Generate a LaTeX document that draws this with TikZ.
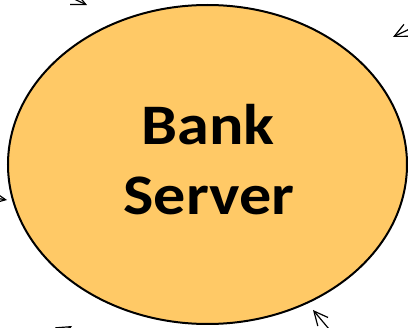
\documentclass[tikz,border=0pt]{standalone}
\usepackage{fontspec}
\setmainfont{Carlito}
\usetikzlibrary{arrows.meta,shapes.geometric}
\definecolor{fillc}{RGB}{255,201,102}
\begin{document}
\begin{tikzpicture}[x=0.75pt,y=-0.75pt,
  conn/.style={-{Straight Barb[length=10.5pt,width=10pt]}, line width=0.9pt},
  lbl/.style={font=\fontsize{43}{52}\selectfont\bfseries, anchor=base, inner sep=0pt},
  srvshape/.style={ellipse, draw=black, line width=1.5pt, fill=fillc, minimum width=299.25pt, minimum height=239.25pt, inner sep=0pt}]
\useasboundingbox (0,0) rectangle (408,328);
\clip (0,0) rectangle (408,328);
\node[srvshape] (srv) at (207.5,164.5) {};
\node[lbl] (l1) at (208,145) {\scalebox{1.12}[1]{Bank}};
\node[lbl] (l2) at (209,215) {\scalebox{1.12}[1]{Server}};
\coordinate (s1) at (33,-20);  \coordinate (e1) at (87,5);
\coordinate (s2) at (447,11);  \coordinate (e2) at (393,37);
\coordinate (s3) at (-40,192); \coordinate (e3) at (7,200);
\coordinate (s4) at (30,350);  \coordinate (e4) at (72,326);
\coordinate (s5) at (350,354); \coordinate (e5) at (313,310);
\draw[conn] (s1) -- (e1);
\draw[conn] (s2) -- (e2);
\draw[conn] (s3) -- (e3);
\draw[conn] (s4) -- (e4);
\draw[conn] (s5) -- (e5);
\end{tikzpicture}
\end{document}
